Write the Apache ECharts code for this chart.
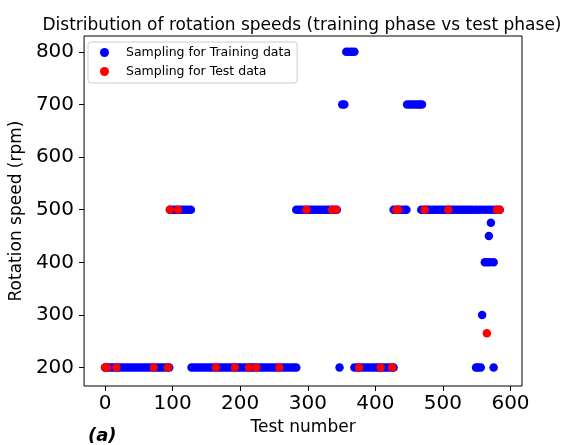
<!DOCTYPE html>
<html>
<head>
<meta charset="utf-8">
<script src="https://cdn.jsdelivr.net/npm/echarts@6/dist/echarts.min.js"></script>
<style>html,body{margin:0;padding:0;background:#fff;}#c{width:567px;height:445px;}</style>
</head>
<body>
<div id="c"></div>
<script>
// Training samples: test numbers grouped by rotation speed (rpm)
const train200 = [0,4,8,12,16,20,24,28,32,36,40,44,48,52,56,60,64,68,72,76,80,84,88,92,95,
  128,132,136,140,144,148,152,156,160,164,168,172,176,180,184,188,192,196,200,204,208,212,216,220,224,228,232,236,240,244,248,252,256,260,264,268,272,276,280,283,
  347,369,373,377,381,385,389,393,397,401,405,409,413,417,421,425,427,549,552,556,575];
const train300 = [558];
const train400 = [562,566,570,575];
const train450 = [568];
const train475 = [571];
const train500 = [96,100,104,108,112,116,120,124,127,
  283,287,291,295,299,303,307,311,315,319,323,327,331,335,339,343,
  427,431,435,439,443,446,
  468,472,476,480,484,488,492,496,500,504,508,512,516,520,524,528,532,536,540,544,549,554,559,564,569,574,579,584];
const train700 = [351,354,447,451,455,459,463,466,469];
const train800 = [357,361,365,369];

// Test samples
const testNumbers = [0,3,17,72,93,164,192,213,224,258,376,408,425,96,108,298,336,342,431,434,473,508,580,584,565];
const testSpeeds  = [200,200,200,200,200,200,200,200,200,200,200,200,200,500,500,500,500,500,500,500,500,500,500,500,265];

const xTicks = [0,100,200,300,400,500,600];
const yTicks = [200,300,400,500,600,700,800];

const trainGroups = [[train200,200],[train300,300],[train400,400],[train450,450],[train475,475],[train500,500],[train700,700],[train800,800]];
const trainData = [];
trainGroups.forEach(([xs,s]) => xs.forEach(x => trainData.push([x,s])));
const testData = testNumbers.map((x,i) => [x,testSpeeds[i]]);

const font = 'DejaVu Sans';
const chart = echarts.init(document.getElementById('c'), null, {renderer:'canvas'});
chart.setOption({
  animation:false,
  backgroundColor:'#fff',
  textStyle:{fontFamily:font},
  title:{text:'Distribution of rotation speeds (training phase vs test phase)',left:297,textAlign:'center',top:12,
    textStyle:{fontFamily:font,fontSize:17,fontWeight:'normal',color:'#000'}},
  legend:{left:88,top:42,orient:'vertical',itemWidth:9,itemHeight:9,itemGap:6,
    padding:[4,6,5,12],borderColor:'#cccccc',borderWidth:1,borderRadius:3,
    textStyle:{fontFamily:font,fontSize:12.5,color:'#000',padding:[0,0,0,12]},
    data:[{name:'Sampling for Training data',icon:'circle'},{name:'Sampling for Test data',icon:'circle'}]},
  grid:{left:83,right:45,top:36,bottom:59,show:true,borderColor:'#000',borderWidth:1,backgroundColor:'transparent'},
  xAxis:{type:'value',min:-31,max:617,
    name:'Test number',nameLocation:'middle',nameGap:32,nameTextStyle:{fontFamily:font,fontSize:17,color:'#000'},
    axisLine:{show:false,onZero:false},splitLine:{show:false},
    axisTick:{show:true,length:5,customValues:xTicks,lineStyle:{color:'#000'}},
    axisLabel:{customValues:xTicks,fontFamily:font,fontSize:20,color:'#000',margin:8}},
  yAxis:{type:'value',min:165,max:830,
    name:'Rotation speed (rpm)',nameLocation:'middle',nameGap:53,nameTextStyle:{fontFamily:font,fontSize:17,color:'#000'},
    axisLine:{show:false,onZero:false},splitLine:{show:false},
    axisTick:{show:true,length:5,customValues:yTicks,lineStyle:{color:'#000'}},
    axisLabel:{customValues:yTicks,fontFamily:font,fontSize:20,color:'#000',margin:10}},
  series:[
    {name:'Sampling for Training data',type:'scatter',data:trainData,symbolSize:8.5,itemStyle:{color:'#0000ff',opacity:1}},
    {name:'Sampling for Test data',type:'scatter',data:testData,symbolSize:8.5,itemStyle:{color:'#ff0000',opacity:1}}
  ],
  graphic:[{type:'text',left:88,top:427,style:{text:'(a)',fontFamily:font,fontSize:18,fontWeight:'bold',fontStyle:'italic',fill:'#000'}}]
});
</script>
</body>
</html>
